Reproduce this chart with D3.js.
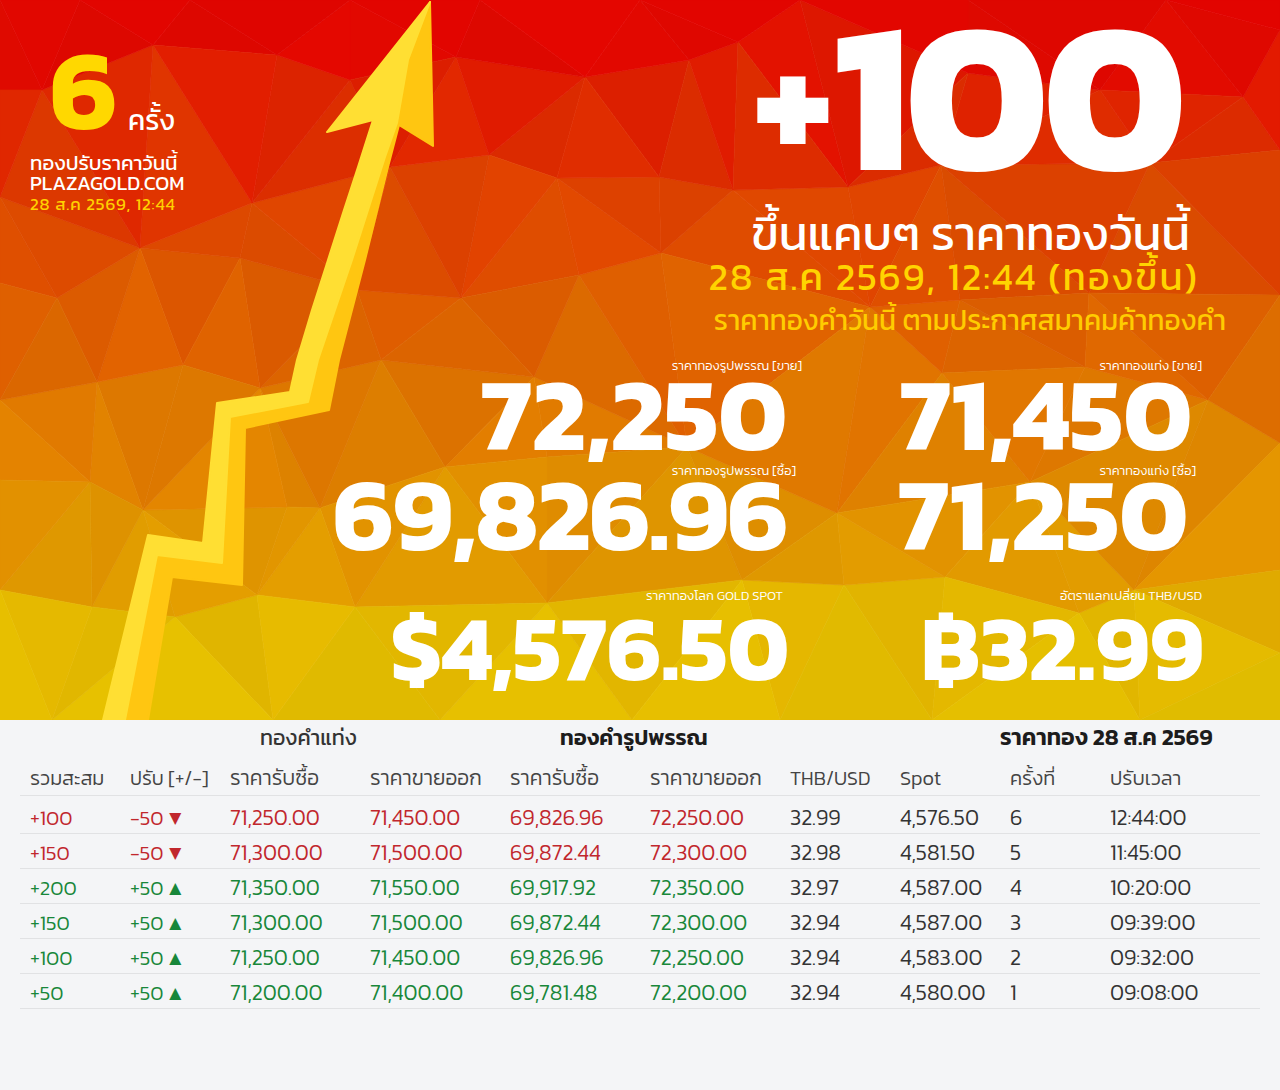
<!DOCTYPE html>
<html>
<head>
<meta charset="utf-8">
<script src="https://cdn.jsdelivr.net/npm/d3@7"></script>
<style>
	body { margin: 0; background: #f4f5f7; }
	svg { display: block; }
	text { font-family: 'Kanit', 'Noto Sans Thai', 'Noto Sans', sans-serif; }
</style>
</head>
<body>
<svg id="chart" width="1280" height="1090"></svg>
<script>
// table columns, newest row first
var cumulative = ['+100', '+150', '+200', '+150', '+100', '+50'];
var adjust = ['-50 ▼', '-50 ▼', '+50 ▲', '+50 ▲', '+50 ▲', '+50 ▲'];
var barBuy = ['71,250.00', '71,300.00', '71,350.00', '71,300.00', '71,250.00', '71,200.00'];
var barSell = ['71,450.00', '71,500.00', '71,550.00', '71,500.00', '71,450.00', '71,400.00'];
var ornBuy = ['69,826.96', '69,872.44', '69,917.92', '69,872.44', '69,826.96', '69,781.48'];
var ornSell = ['72,250.00', '72,300.00', '72,350.00', '72,300.00', '72,250.00', '72,200.00'];
var thbUsd = ['32.99', '32.98', '32.97', '32.94', '32.94', '32.94'];
var spot = ['4,576.50', '4,581.50', '4,587.00', '4,587.00', '4,583.00', '4,580.00'];
var round = ['6', '5', '4', '3', '2', '1'];
var times = ['12:44:00', '11:45:00', '10:20:00', '09:39:00', '09:32:00', '09:08:00'];
var columns = [cumulative, adjust, barBuy, barSell, ornBuy, ornSell, thbUsd, spot, round, times];
var colHeads = ['รวมสะสม', 'ปรับ [+/-]', 'ราคารับซื้อ', 'ราคาขายออก', 'ราคารับซื้อ', 'ราคาขายออก', 'THB/USD', 'Spot', 'ครั้งที่', 'ปรับเวลา'];
var colHeadSize = [20, 19.5, 21, 21, 21, 21, 19.5, 20, 20, 20];
var colSize = [20.5, 20.5, 21.7, 21.7, 21.7, 21.7, 21.7, 21.7, 21.7, 21.7];
var colX = [30, 130, 230, 370, 510, 650, 790, 900, 1010, 1110];

// low-poly background vertices
var bgPoints = [
	[0,0],[80,0],[190,0],[350,0],[480,0],[640,0],[800,0],[968,0],[1166,0],[1280,0],
	[42,90],[153,45],[277,55],[350,80],[456,57],[585,77],[689,60],[738,42],[968,73],[1100,90],[1243,97],[1280,30],
	[0,90],[0,197],[0,283],[0,400],[0,480],[0,590],[0,720],[1280,150],[1280,295],[1280,443],[1280,570],[1280,653],[1280,720],
	[252,203],[140,248],[240,258],[57,298],[390,167],[357,290],[489,155],[557,178],[659,177],[733,190],[848,187],[941,165],[1150,163],
	[461,298],[579,275],[661,253],[870,307],[960,300],[1089,293],
	[97,382],[183,365],[260,388],[381,360],[534,377],[445,467],[547,457],[687,447],[837,513],[942,373],[1085,367],[1208,400],[1030,482],
	[90,482],[143,510],[287,507],[320,508],[257,595],[175,617],[92,607],[355,607],[547,603],[742,580],[844,585],[945,577],[1134,590],[1079,613],
	[52,720],[273,720],[440,720],[632,720],[780,720],[932,720],[1140,720]
];
var bgStops = [0, 60, 110, 200, 300, 400, 500, 585, 620, 720];
var bgColors = ['#e00300', '#e00a00', '#de2200', '#de4000', '#dd5800', '#df7400', '#e08c00', '#e2a000', '#e3b500', '#e3c200'];
var bgTweak = [0.06, -0.05, 0.02, -0.08, 0.09, -0.02, 0.04, -0.06];

// arrow outline
var arrowLight = [[430,2],[327,132],[373,120],[358,167],[343,213],[328,260],[312,310],[297,360],[290,392],[217,403],[203,543],[148,535],[103,720],[125,720],[157,555],[222,563],[230,417],[308,402],[318,360],[352,260],[385,157],[397,123],[408,60]];
var arrowDark = [[430,2],[433,146],[399,125],[388,167],[365,260],[339,360],[329,410],[245,428],[242,585],[172,577],[148,720],[125,720],[157,555],[222,563],[230,417],[308,402],[318,360],[352,260],[385,157],[397,123],[408,60]];

var bigValues = [
	{ label: 'ราคาทองรูปพรรณ [ขาย]', lx: 802, ly: 370, value: '72,250', x: 787, y: 450, size: 103 },
	{ label: 'ราคาทองแท่ง [ขาย]', lx: 1202, ly: 370, value: '71,450', x: 1192, y: 450, size: 103 },
	{ label: 'ราคาทองรูปพรรณ [ซื้อ]', lx: 796, ly: 475, value: '69,826.96', x: 787, y: 550, size: 103, spacing: '-0.012em' },
	{ label: 'ราคาทองแท่ง [ซื้อ]', lx: 1196, ly: 475, value: '71,250', x: 1188, y: 550, size: 103 },
	{ label: 'ราคาทองโลก GOLD SPOT', lx: 783, ly: 600, value: '$4,576.50', x: 789, y: 680, size: 92 },
	{ label: 'อัตราแลกเปลี่ยน THB/USD', lx: 1202, ly: 600, value: '฿32.99', x: 1204, y: 680, size: 92 }
];

var svg = d3.select('#chart');

// background
var bgScale = d3.scaleLinear().domain(bgStops).range(bgColors).interpolate(d3.interpolateRgb);
var delaunay = d3.Delaunay.from(bgPoints);
var tris = d3.range(delaunay.triangles.length / 3).map(function (i) {
	return [0, 1, 2].map(function (k) { return bgPoints[delaunay.triangles[i * 3 + k]]; });
});
svg.append('g').selectAll('path')
	.data(tris)
	.enter()
	.append('path')
	.attr('d', function (t) { return 'M' + t.join('L') + 'Z'; })
	.attr('fill', triFill)
	.attr('stroke', triFill)
	.attr('stroke-width', 0.6);

function triFill(t, i) {
	var cy = d3.mean(t, function (p) { return p[1]; });
	var c = d3.hsl(bgScale(cy));
	c.l = c.l * (1 + bgTweak[i % bgTweak.length] * 0.18);
	return c.formatHex();
}

// arrow
var line = d3.line().curve(d3.curveLinear);
svg.append('path').attr('d', line(arrowDark) + 'Z').attr('fill', '#ffc611').attr('stroke', '#ffc611').attr('stroke-width', 2).attr('stroke-linejoin', 'round');
svg.append('path').attr('d', line(arrowLight) + 'Z').attr('fill', '#ffdf33').attr('stroke', '#ffdf33').attr('stroke-width', 2).attr('stroke-linejoin', 'round');

function label(x, y, str, size, weight, fill, anchor, spacing) {
	return svg.append('text')
		.attr('x', x).attr('y', y)
		.attr('font-size', size).attr('font-weight', weight)
		.attr('fill', fill).attr('text-anchor', anchor || 'start')
		.style('letter-spacing', spacing || null)
		.text(str);
}

// top left
label(50, 129, '6', 114, 700, '#ffd800');
label(128, 130, 'ครั้ง', 28, 400, '#fff');
label(30, 170, 'ทองปรับราคาวันนี้', 20.5, 400, '#fff');
label(30, 190, 'PLAZAGOLD.COM', 20, 400, '#fff');
label(30, 210, '28 ส.ค 2569, 12:44', 17, 400, '#ffd000', null, '0.05em');

// headline, the plus sign is smaller than the digits
var head = svg.append('text').attr('font-weight', 700).attr('fill', '#fff');
head.append('tspan').attr('x', 753).attr('y', 160).attr('font-size', 175).text('+');
head.append('tspan').attr('x', 1181).attr('y', 170).attr('font-size', 215)
	.attr('text-anchor', 'end').style('letter-spacing', '-0.025em').text('100');

label(1190, 250, 'ขึ้นแคบๆ ราคาทองวันนี้', 47.5, 400, '#fff', 'end');
label(1199, 290, '28 ส.ค 2569, 12:44 (ทองขึ้น)', 38, 400, '#ffd400', 'end', '0.055em');
label(1226, 330, 'ราคาทองคำวันนี้ ตามประกาศสมาคมค้าทองคำ', 28, 400, '#ffcc00', 'end');

bigValues.forEach(function (d) {
	label(d.lx, d.ly, d.label, 13, 300, '#fff', 'end');
	label(d.x, d.y, d.value, d.size, 700, '#fff', 'end', d.spacing);
});

// table
svg.append('rect').attr('x', 0).attr('y', 720).attr('width', 1280).attr('height', 370).attr('fill', '#f4f5f7');

label(260, 745, 'ทองคำแท่ง', 21.5, 400, '#333');
label(560, 745, 'ทองคำรูปพรรณ', 22, 600, '#1c1c1c');
label(1000, 745, 'ราคาทอง 28 ส.ค 2569', 23, 600, '#1c1c1c');

var rowY = d3.scalePoint().domain(d3.range(cumulative.length)).range([825, 1000]);
var xCol = d3.scaleOrdinal().domain(d3.range(columns.length)).range(colX);

colHeads.forEach(function (h, c) {
	label(xCol(c), 785, h, colHeadSize[c], 300, '#444');
});

svg.append('line').attr('x1', 20).attr('x2', 1260).attr('y1', 795.5).attr('y2', 795.5).attr('stroke', '#e1e2e4');

rowY.domain().forEach(function (r) {
	svg.append('line')
		.attr('x1', 20).attr('x2', 1260)
		.attr('y1', rowY(r) + 8.5).attr('y2', rowY(r) + 8.5)
		.attr('stroke', '#e1e2e4');
	var color = r < 2 ? '#c1272d' : '#18873a';
	columns.forEach(function (col, c) {
		label(xCol(c), rowY(r), col[r], colSize[c], 300, c < 6 ? color : '#333');
	});
});
</script>
</body>
</html>
